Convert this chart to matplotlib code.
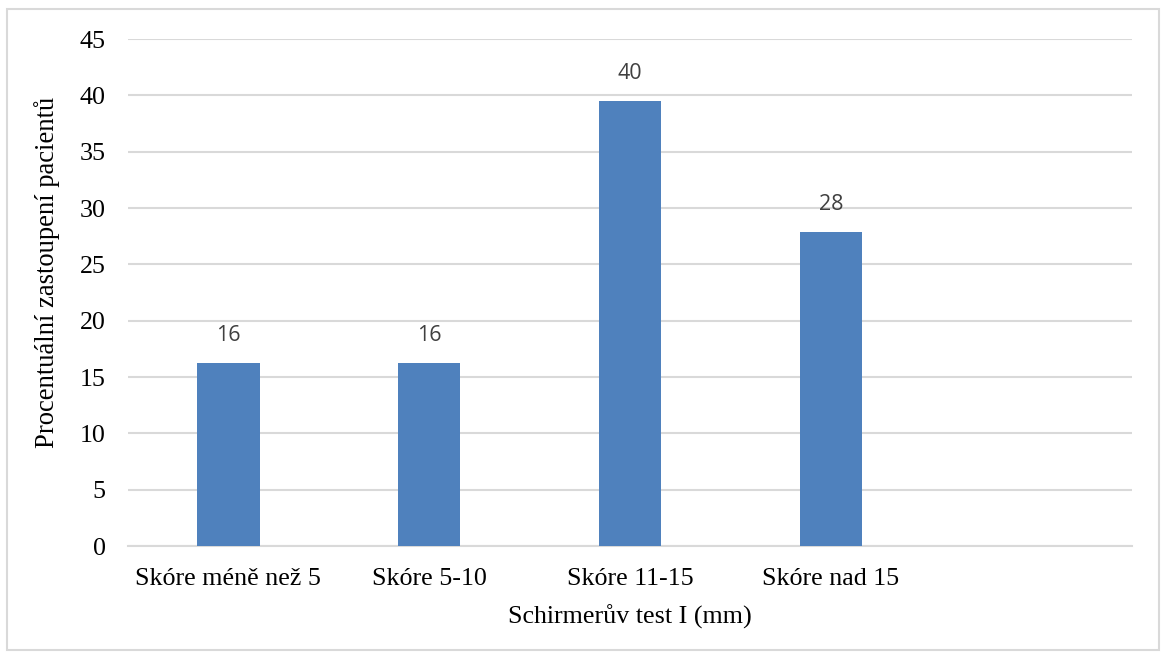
import numpy as np
import matplotlib.pyplot as plt
from matplotlib.patches import Rectangle

# Schirmer test I groups (share of patients, %)
categories = ["Skóre méně než 5", "Skóre 5-10", "Skóre 11-15", "Skóre nad 15", ""]
values = [16.28, 16.28, 39.53, 27.91, np.nan]
yticks = list(range(0, 50, 5))

serif = ["Liberation Serif", "DejaVu Serif"]
bar_color = "#4F81BD"
grid_color = "#D9D9D9"

fig = plt.figure(figsize=(11.66, 6.57), dpi=100)
ax = fig.add_axes([0.1098, 0.1689, 0.861, 0.7717])

x = np.arange(len(categories))
ax.bar(x, values, width=0.31, color=bar_color, zorder=3)

for xi, v in zip(x, values):
    if np.isnan(v):
        continue
    ax.annotate(f"{v:.0f}", (xi, v), xytext=(0, 12), textcoords="offset points",
                ha="center", va="bottom", fontsize=15.5, color="#404040",
                family=["Open Sans", "DejaVu Sans"])

ax.set_xlim(-0.5, len(categories) - 0.5)
ax.set_ylim(0, 45)
ax.set_yticks(yticks)
ax.set_xticks(x)
ax.set_xticklabels(categories, fontsize=18.7, family=serif)
ax.set_yticklabels([str(t) for t in yticks], fontsize=18.7, family=serif)
ax.tick_params(axis="x", length=0, pad=16)
ax.tick_params(axis="y", length=0, pad=16)

ax.grid(axis="y", color=grid_color, linewidth=1.5, zorder=0)
for side in ["top", "right", "left"]:
    ax.spines[side].set_visible(False)
ax.spines["bottom"].set_color(grid_color)
ax.spines["bottom"].set_linewidth(1.5)

ax.set_xlabel("Schirmerův test I (mm)", fontsize=18.7, family=serif, labelpad=10)
ax.set_ylabel("Procentuální zastoupení pacientů", fontsize=19.2, family=serif)
ax.yaxis.set_label_coords(-0.068, 0.54)

# thin frame round the whole chart
fig.patches.append(Rectangle((0.006, 0.011), 0.988, 0.975, transform=fig.transFigure,
                             fill=False, edgecolor="#D9D9D9", linewidth=1.5))

fig.savefig("out.png", dpi=100)
